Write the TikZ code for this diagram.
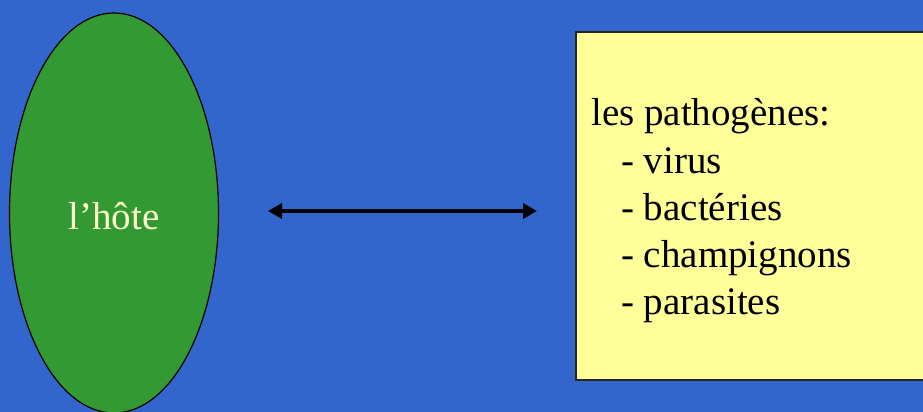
\documentclass[tikz,border=0pt]{standalone}
\usepackage{fontspec}
\setmainfont{Liberation Serif}
\usetikzlibrary{arrows.meta}
\definecolor{bgblue}{HTML}{3366CC}
\definecolor{hostgreen}{HTML}{339933}
\definecolor{boxyellow}{HTML}{FFFF99}
\definecolor{paletext}{HTML}{FFFFCC}
\tikzset{
  hoststyle/.style={draw=black, line width=1.2pt, fill=hostgreen},
  boxstyle/.style={draw=black!85, line width=2pt, fill=boxyellow},
  bigtext/.style={font=\fontsize{39}{47.25}\selectfont, inner sep=0pt},
  linkarrow/.style={line width=4pt, {Triangle[length=14pt,width=15pt]}-{Triangle[length=14pt,width=15pt]}},
}
\begin{document}
\begin{tikzpicture}[x=1pt,y=1pt]
\useasboundingbox (0,0) rectangle (923,412);
\clip (0,0) rectangle (923,412);
\fill[bgblue] (0,0) rectangle (923,412);
\draw[hoststyle] (114,199) ellipse [x radius=104.5, y radius=200];
\node[bigtext, text=paletext, anchor=base] (host) at (114,182) {l’hôte};
\draw[boxstyle] (576,380) rectangle (950,32);
\node[bigtext, anchor=base west, align=left] (path) at (591,97) {les pathogènes:\\
\hspace*{30pt}- virus\\
\hspace*{30pt}- bactéries\\
\hspace*{30pt}- champignons\\
\hspace*{30pt}- parasites};
\coordinate (aL) at (268,201);
\coordinate (aR) at (537,201);
\draw[linkarrow] (aL) -- (aR);
\end{tikzpicture}
\end{document}
